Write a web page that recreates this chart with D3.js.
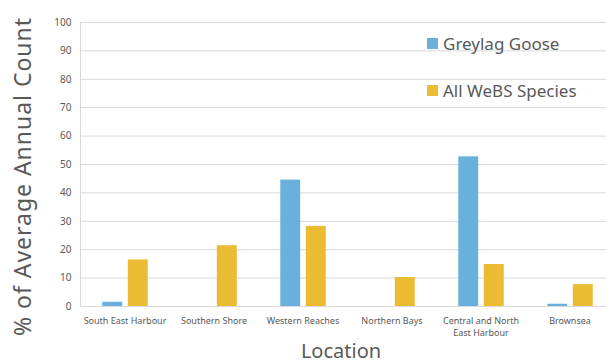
<!DOCTYPE html>
<html>
<head>
<meta charset="utf-8">
<script src="https://cdn.jsdelivr.net/npm/d3@7"></script>
<style>
  html, body { margin: 0; padding: 0; background: #fff; }
  svg { display: block; }
  text { font-family: "Noto Sans", "Open Sans", sans-serif; fill: #595959; }
</style>
</head>
<body>
<svg id="chart" width="606" height="363"></svg>
<script>
const categories = [["South East Harbour"], ["Southern Shore"], ["Western Reaches"], ["Northern Bays"], ["Central and North", "East Harbour"], ["Brownsea"]];
const seriesNames = ["Greylag Goose", "All WeBS Species"];
const greylag = [1.5, 0, 44.5, 0, 52.7, 0.8];
const allWebs = [16.4, 21.4, 28.2, 10.2, 14.8, 7.7];
const yTicks = [0, 10, 20, 30, 40, 50, 60, 70, 80, 90, 100];
const colors = ["#69b1dc", "#ebbb31"];

const svg = d3.select("#chart");
const W = 606, H = 363;
const mLeft = 80.5, mRight = 614.5, mTop = 22, mBottom = 306;

const catKeys = categories.map(c => c.join(" "));
const x0 = d3.scaleBand().domain(catKeys).range([mLeft, mRight]).paddingInner(0.489).paddingOuter(0.2445);
const x1 = d3.scaleBand().domain(seriesNames).range([0, x0.bandwidth()]).paddingInner(0.22);
const y = d3.scaleLinear().domain([0, 100]).range([mBottom, mTop]);

// gridlines
const yAxis = d3.axisLeft(y).tickValues(yTicks).tickSize(-(W - mLeft)).tickPadding(9);
const gy = svg.append("g").attr("transform", `translate(${mLeft},0)`).call(yAxis);
gy.select(".domain").remove();
gy.selectAll(".tick line").attr("stroke", "#d9d9d9").attr("stroke-width", 1);
gy.selectAll(".tick text").style("font-size", "10px").attr("fill", "#595959");

// left axis line
svg.append("line").attr("x1", mLeft).attr("x2", mLeft).attr("y1", mTop).attr("y2", mBottom)
  .attr("stroke", "#d9d9d9");

// bars
const data = catKeys.map((k, i) => ({ key: k, values: [greylag[i], allWebs[i]] }));
const groups = svg.append("g").selectAll("g").data(data).join("g")
  .attr("transform", d => `translate(${x0(d.key)},0)`);
groups.selectAll("rect").data(d => d.values.map((v, j) => ({ s: seriesNames[j], v, j })))
  .join("rect")
  .attr("x", d => x1(d.s))
  .attr("width", x1.bandwidth())
  .attr("y", d => y(d.v))
  .attr("height", d => y(0) - y(d.v))
  .attr("fill", d => colors[d.j]);

// category labels
const xl = svg.append("g");
categories.forEach((lines, i) => {
  const cx = x0(catKeys[i]) + x0.bandwidth() / 2;
  const t = xl.append("text").attr("x", cx).attr("y", 324).attr("text-anchor", "middle")
    .style("font-size", "9px");
  lines.forEach((ln, j) => t.append("tspan").attr("x", cx).attr("dy", j === 0 ? 0 : 12.4).text(ln));
});

// axis titles
svg.append("text").attr("transform", `translate(31,177) rotate(-90)`).attr("text-anchor", "middle")
  .style("font-size", "23px").attr("textLength", 318).attr("lengthAdjust", "spacing")
  .text("% of Average Annual Count");
svg.append("text").attr("x", 341).attr("y", 358).attr("text-anchor", "middle")
  .style("font-size", "20px").text("Location");

// legend
const leg = svg.append("g");
seriesNames.forEach((s, i) => {
  const ly = 38 + i * 47;
  leg.append("rect").attr("x", 427).attr("y", ly).attr("width", 11).attr("height", 11).attr("fill", colors[i]);
  leg.append("text").attr("x", 443).attr("y", ly + 12).style("font-size", "17px").text(s);
});
</script>
</body>
</html>
